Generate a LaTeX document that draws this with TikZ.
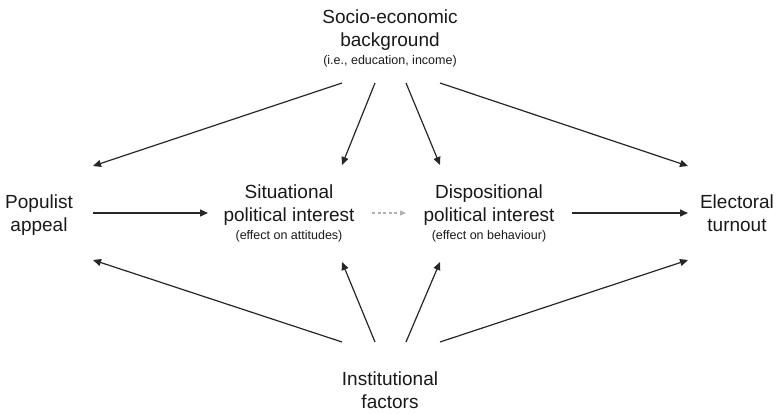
\documentclass[tikz,border=0pt]{standalone}
\usepackage{fontspec}
\setmainfont{Liberation Sans}
\usetikzlibrary{arrows.meta}
\tikzset{
  font={\fontsize{19pt}{23pt}\selectfont}}
\newcommand{\subtxt}[1]{{\fontsize{12.5pt}{14pt}\selectfont #1}}

\begin{document}
\begin{tikzpicture}[x=1pt,y=-1pt]
\tikzstyle{every node}+=[inner sep=0pt, align=center, anchor=north, text=black!90]
\tikzstyle{arr}=[draw=black!85, line width=1.2pt, -{Triangle[length=8pt,width=7pt]}]
\tikzstyle{dasharr}=[draw=black!30, line width=1.1pt, dash pattern=on 3pt off 2.5pt, -{Triangle[length=6pt,width=5pt]}]
\useasboundingbox (0,0) rectangle (778,413);
% nodes
\node (ses) at (390,10) {Socio-economic\\background\\[-5pt]\subtxt{(i.e., education, income)}};
\node (pop) at (39,195) {Populist\\appeal};
\node (sit) at (289,185) {Situational\\political interest\\[-5pt]\subtxt{(effect on attitudes)}};
\node (dis) at (489,185) {Dispositional\\political interest\\[-5pt]\subtxt{(effect on behaviour)}};
\node (ele) at (737,195) {Electoral\\turnout};
\node (ins) at (390,372) {Institutional\\factors};
% arrow ends
\coordinate (ses1) at (342,83);
\coordinate (ses2) at (375,83);
\coordinate (ses3) at (406,83);
\coordinate (ses4) at (440,83);
\coordinate (ins1) at (342,342);
\coordinate (ins2) at (375,342);
\coordinate (ins3) at (406,342);
\coordinate (ins4) at (440,342);
\coordinate (popT) at (93,166);
\coordinate (popB) at (93,260);
\coordinate (popR) at (93,213);
\coordinate (sitT) at (342,165);
\coordinate (sitB) at (342,262);
\coordinate (sitL) at (208,213);
\coordinate (sitR) at (372,213);
\coordinate (disT) at (440,165);
\coordinate (disB) at (440,262);
\coordinate (disL) at (406,213);
\coordinate (disR) at (572,213);
\coordinate (eleT) at (688,166);
\coordinate (eleB) at (688,260);
\coordinate (eleL) at (688,213);
% connectors
\draw [arr] (ses1) -- (popT);
\draw [arr] (ses2) -- (sitT);
\draw [arr] (ses3) -- (disT);
\draw [arr] (ses4) -- (eleT);
\draw [arr] (ins1) -- (popB);
\draw [arr] (ins2) -- (sitB);
\draw [arr] (ins3) -- (disB);
\draw [arr] (ins4) -- (eleB);
\draw [arr] (popR) -- (sitL);
\draw [dasharr] (sitR) -- (disL);
\draw [arr] (disR) -- (eleL);
\end{tikzpicture}
\end{document}
